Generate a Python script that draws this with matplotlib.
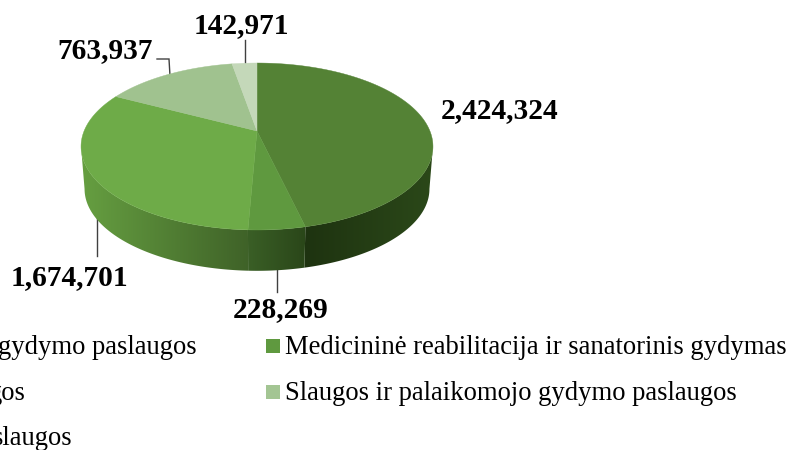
import numpy as np
import matplotlib
matplotlib.use("Agg")
import matplotlib.pyplot as plt
from matplotlib.colors import to_rgb
from matplotlib.patches import Polygon, Rectangle

values = [2424324, 228269, 1674701, 763937, 142971]
value_labels = ["2,424,324", "228,269", "1,674,701", "763,937", "142,971"]
top_colors = ["#548235", "#5F993F", "#6EAB48", "#A0C28F", "#C4D8B9"]
wall_left = ["#1E3310", "#3A5F26", "#669F41"]
wall_right = ["#2B4819", "#2A4619", "#3F6228"]
legend_right = ["Medicininė reabilitacija ir sanatorinis gydymas",
                "Slaugos ir palaikomojo gydymo paslaugos"]
legend_left = ["gydymo paslaugos", "gos", "slaugos"]

CX, CY = 257.0, 131.0
A, B, K = 172.9, 80.6, 0.1856
DEPTH, RIM = 42.5, 0.98
ELL_CY = 147.0
# angles at which the projected ellipse reaches its right and left extremes
THETA_R = np.degrees(np.arccos(-K))
THETA_L = 360 - THETA_R


def project(theta_deg):
    t = np.radians(theta_deg)
    u, v = np.sin(t), np.cos(t)
    d = 1 + K * v
    return CX + A * u / d, CY - B * v / d


def project_bottom(theta_deg):
    x, y = project(theta_deg)
    return CX + (x - CX) * RIM, ELL_CY + DEPTH + (y - ELL_CY) * RIM


fig = plt.figure(figsize=(7.9, 4.5), dpi=100)
ax = fig.add_axes([0, 0, 1, 1])
ax.axis("off")

edges = np.concatenate([[0], np.cumsum(values)]) / np.sum(values) * 360

# side wall: one horizontal gradient per visible slice, clipped to its outline
for i in range(len(wall_left)):
    a, b = max(edges[i], THETA_R), min(edges[i + 1], THETA_L)
    th = np.linspace(a, b, 300)
    xt, yt = project(th)
    xb, yb = project_bottom(th)
    px = np.r_[xt, xb[::-1]]
    py = np.r_[yt, yb[::-1]]
    x0, x1 = px.min(), px.max()
    y0, y1 = py.min(), py.max()
    c0, c1 = np.array(to_rgb(wall_left[i])), np.array(to_rgb(wall_right[i]))
    f = np.linspace(0, 1, 256)[:, None]
    grad = (c0 + (c1 - c0) * f)[None, :, :]
    im = ax.imshow(grad, extent=[x0, x1, y1, y0], aspect="auto", zorder=2,
                   interpolation="bilinear")
    clip = Polygon(np.column_stack([px, py]), closed=True, transform=ax.transData)
    im.set_clip_path(clip)

ax.set_xlim(0, 790)
ax.set_ylim(450, 0)

# top face
for i in range(len(values)):
    th = np.linspace(edges[i], edges[i + 1], 200)
    x, y = project(th)
    pts = np.column_stack([np.r_[CX, x], np.r_[CY, y]])
    ax.add_patch(Polygon(pts, closed=True, fc=top_colors[i], ec=top_colors[i], lw=0.3, zorder=3))

# leader lines
line_c = "#404040"
leaders = [([245, 245], [40, 63]),
           ([157, 169, 170], [59, 59, 76]),
           ([97, 97], [215, 256]),
           ([277, 277], [270, 292])]
for xs, ys in leaders:
    ax.plot(xs, ys, color=line_c, lw=1.0, zorder=1, solid_joinstyle="miter")

label_pos = [(499.5, 118), (280.5, 317), (69, 285), (105, 58), (241, 33)]
serif = "Liberation Serif"
for text, (x, y) in zip(value_labels, label_pos):
    ax.text(x, y, text, family=serif, weight="bold", fontsize=21.2,
            ha="center", va="baseline", color="black", zorder=5)

# legend
row_y = [354, 400, 445]
for text, y, col in zip(legend_right, row_y, [top_colors[1], "#A3C593"]):
    ax.add_patch(Rectangle((266, y - 15), 14, 14, fc=col, ec="none"))
    ax.text(285, y, text, family=serif, fontsize=19.2, ha="left", va="baseline", color="black")
for text, y, xr in zip(legend_left, row_y, [197, 26, 72]):
    ax.text(xr, y, text, family=serif, fontsize=19.2, ha="right", va="baseline", color="black")

fig.savefig("out.png", dpi=100)
